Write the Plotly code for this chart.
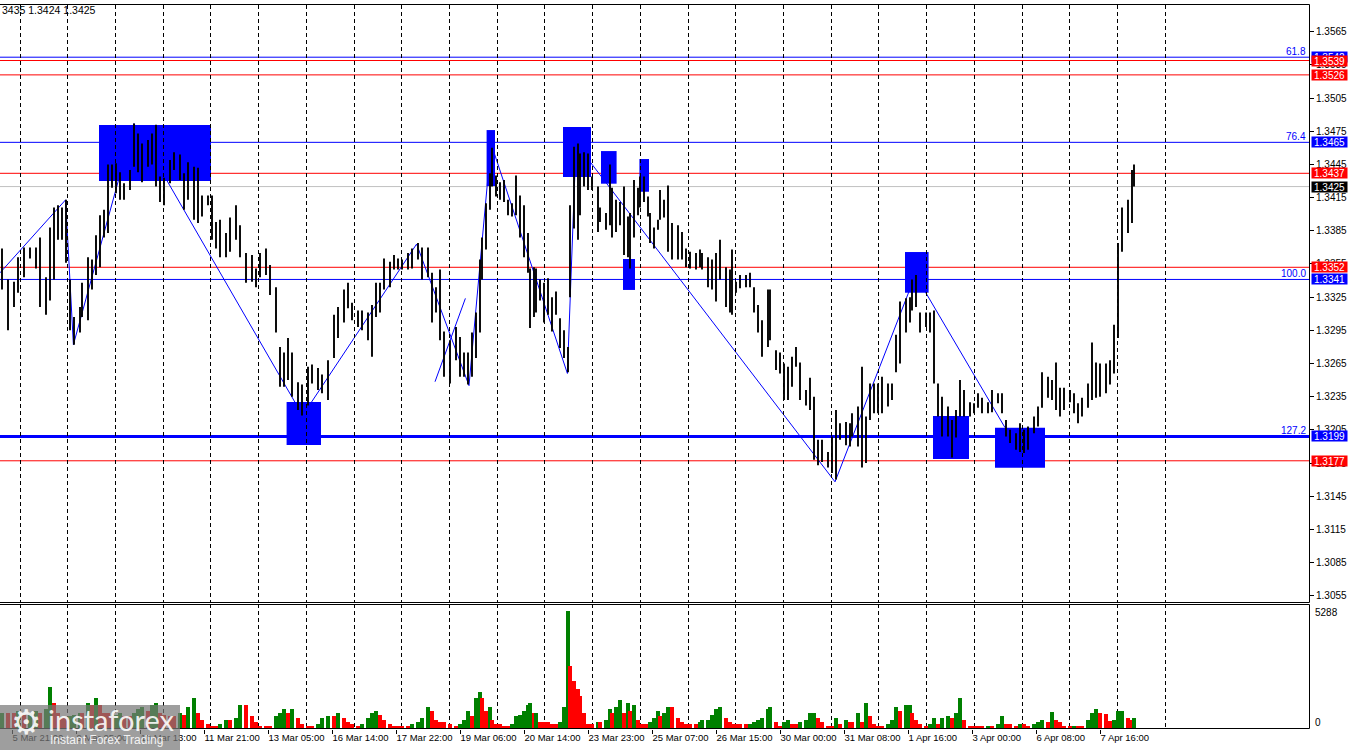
import plotly.graph_objects as go

# ---------------- data ----------------
bar_hour = [1,4,7,9,12,15,18,20,23,25,27,29,31,33,35,37,40,41,44,46,
            48,50,52,54,56,58,60,62,65,67,69,71,74,76,78,80,82,85,87,90,
            92,94,97,99,101,104,106,108,110,113,115,118,120,123,126,128,130,133,135,138,
            140,142,144,146,149,151,154,156,159,161,164,167,169,172,174,176,179,181,184,186,
            188,190,192,195,197,199,201,204,206,209,211,214,216,218,220,222,225,228,230,232,
            234,236,238,240,241,243,245,246,248,250,252,254,256,258,260,262,264,265,267,268,
            270,272,274,276,278,280,282,284,285,287,289,290,292,294,296,299,300,303,305,306,
            308,310,312,314,315,317,319,320,322,324,325,327,329,330,332,334,336,339,341,343,
            345,348,350,351,354,356,358,360,363,365,366,368,370,373,375,377,379,381,384,385,
            388,390,392,394,396,398,400,403,405,407,409,411,414,416,418,420,423,425,426,429,
            431,433,435,437,439,441,444,446,448,450,453,455,456,458,460,463,465,467,469,471,
            474,476,478,480,482,485,487,489,491,494,496,499,501,503,505,508,510,512,514,517,
            519,521,524,526,528,530,532,535,537,539,541,544,546,548,550,553,555,557,559,561,
            564,566,567]

bar_high = [1.3369,1.3341,1.3339,1.3361,1.3370,1.3370,1.3370,1.3379,1.3343,1.3388,
            1.3406,1.3408,1.3406,1.3413,1.3341,1.3307,1.3316,1.3338,1.3361,1.3359,
            1.3381,1.3399,1.3404,1.3445,1.3445,1.3446,1.3438,1.3428,1.3440,1.3482,
            1.3473,1.3464,1.3467,1.3473,1.3481,1.3434,1.3433,1.3449,1.3456,1.3454,
            1.3437,1.3447,1.3443,1.3442,1.3417,1.3417,1.3417,1.3393,1.3395,1.3383,
            1.3397,1.3408,1.3390,1.3365,1.3363,1.3351,1.3365,1.3369,1.3354,1.3334,
            1.3280,1.3275,1.3288,1.3275,1.3248,1.3246,1.3262,1.3264,1.3261,1.3255,
            1.3268,1.3309,1.3316,1.3332,1.3338,1.3320,1.3313,1.3313,1.3311,1.3318,
            1.3338,1.3338,1.3360,1.3357,1.3363,1.3360,1.3359,1.3365,1.3369,1.3374,
            1.3370,1.3370,1.3347,1.3334,1.3350,1.3294,1.3286,1.3298,1.3289,1.3275,
            1.3275,1.3293,1.3311,1.3359,1.3379,1.3410,1.3437,1.3460,1.3435,1.3429,
            1.3431,1.3413,1.3410,1.3435,1.3417,1.3408,1.3383,1.3351,1.3352,1.3351,
            1.3341,1.3338,1.3342,1.3325,1.3330,1.3306,1.3295,1.3280,1.3408,1.3461,
            1.3464,1.3455,1.3456,1.3455,1.3434,1.3425,1.3406,1.3401,1.3445,1.3424,
            1.3413,1.3411,1.3425,1.3398,1.3401,1.3431,1.3424,1.3434,1.3434,1.3416,
            1.3401,1.3388,1.3395,1.3422,1.3413,1.3426,1.3392,1.3390,1.3384,1.3369,
            1.3366,1.3365,1.3368,1.3365,1.3361,1.3359,1.3365,1.3377,1.3352,1.3350,
            1.3368,1.3339,1.3345,1.3345,1.3347,1.3334,1.3318,1.3304,1.3332,1.3332,
            1.3277,1.3275,1.3265,1.3262,1.3271,1.3280,1.3266,1.3241,1.3252,1.3235,
            1.3196,1.3196,1.3185,1.3199,1.3223,1.3211,1.3212,1.3211,1.3220,1.3226,
            1.3262,1.3217,1.3247,1.3247,1.3247,1.3253,1.3247,1.3247,1.3291,1.3321,
            1.3324,1.3325,1.3341,1.3345,1.3311,1.3311,1.3311,1.3313,1.3247,1.3235,
            1.3226,1.3214,1.3223,1.3250,1.3241,1.3230,1.3229,1.3238,1.3234,1.3230,
            1.3241,1.3238,1.3238,1.3214,1.3205,1.3202,1.3211,1.3205,1.3208,1.3217,
            1.3226,1.3257,1.3253,1.3250,1.3266,1.3243,1.3243,1.3241,1.3238,1.3229,
            1.3234,1.3247,1.3284,1.3266,1.3265,1.3265,1.3268,1.3300,1.3374,1.3406,
            1.3413,1.3440,1.3445]

bar_low = [1.3332,1.3295,1.3316,1.3329,1.3343,1.3360,1.3351,1.3316,1.3309,1.3322,
           1.3341,1.3377,1.3377,1.3356,1.3295,1.3282,1.3293,1.3307,1.3304,1.3332,
           1.3345,1.3352,1.3379,1.3383,1.3424,1.3419,1.3413,1.3413,1.3422,1.3443,
           1.3438,1.3429,1.3443,1.3445,1.3425,1.3411,1.3408,1.3428,1.3440,1.3431,
           1.3404,1.3413,1.3395,1.3392,1.3398,1.3408,1.3377,1.3369,1.3361,1.3361,
           1.3366,1.3377,1.3361,1.3338,1.3339,1.3334,1.3343,1.3345,1.3327,1.3293,
           1.3244,1.3244,1.3250,1.3235,1.3223,1.3218,1.3227,1.3247,1.3241,1.3238,
           1.3232,1.3270,1.3288,1.3302,1.3315,1.3304,1.3298,1.3295,1.3286,1.3271,
           1.3307,1.3311,1.3332,1.3334,1.3350,1.3350,1.3350,1.3350,1.3351,1.3359,
           1.3341,1.3343,1.3302,1.3311,1.3286,1.3253,1.3247,1.3268,1.3253,1.3253,
           1.3246,1.3253,1.3270,1.3293,1.3341,1.3368,1.3404,1.3425,1.3416,1.3413,
           1.3411,1.3399,1.3398,1.3399,1.3379,1.3361,1.3347,1.3297,1.3307,1.3311,
           1.3322,1.3302,1.3309,1.3294,1.3309,1.3279,1.3270,1.3257,1.3325,1.3387,
           1.3377,1.3399,1.3425,1.3422,1.3422,1.3384,1.3393,1.3386,1.3390,1.3379,
           1.3384,1.3390,1.3363,1.3361,1.3351,1.3379,1.3399,1.3406,1.3411,1.3398,
           1.3374,1.3369,1.3386,1.3395,1.3397,1.3366,1.3359,1.3359,1.3359,1.3352,
           1.3351,1.3350,1.3352,1.3350,1.3334,1.3332,1.3321,1.3341,1.3316,1.3311,
           1.3309,1.3329,1.3333,1.3334,1.3334,1.3311,1.3293,1.3271,1.3280,1.3286,
           1.3259,1.3256,1.3232,1.3232,1.3244,1.3262,1.3232,1.3227,1.3223,1.3178,
           1.3173,1.3176,1.3171,1.3166,1.3160,1.3196,1.3191,1.3190,1.3199,1.3190,
           1.3171,1.3175,1.3214,1.3220,1.3220,1.3220,1.3226,1.3232,1.3257,1.3265,
           1.3293,1.3302,1.3313,1.3316,1.3293,1.3298,1.3293,1.3247,1.3217,1.3199,
           1.3199,1.3180,1.3198,1.3217,1.3217,1.3217,1.3220,1.3225,1.3220,1.3220,
           1.3221,1.3229,1.3220,1.3199,1.3193,1.3187,1.3185,1.3184,1.3187,1.3202,
           1.3208,1.3225,1.3234,1.3232,1.3223,1.3217,1.3223,1.3230,1.3220,1.3211,
           1.3217,1.3225,1.3232,1.3234,1.3235,1.3238,1.3246,1.3256,1.3288,1.3366,
           1.3383,1.3392,1.3425]

volume = [680,680,640,730,590,680,730,640,820,1820,
          1130,640,450,450,540,590,680,640,1090,1000,
          1360,1000,640,640,540,590,680,540,540,640,
          820,910,770,1000,1090,680,590,540,540,640,
          590,910,1360,680,360,180,90,90,140,320,
          320,450,1000,1000,540,230,90,90,90,540,
          640,860,680,860,450,180,90,90,140,450,
          540,540,680,450,230,140,90,140,450,640,
          730,590,360,180,90,90,90,90,140,230,
          450,950,770,360,270,230,140,90,140,320,
          730,540,1360,1630,1360,770,950,320,140,140,
          90,90,180,540,590,770,1000,1130,640,680,
          270,270,230,180,180,270,910,5288,2770,2130,
          1730,1410,640,180,180,270,230,360,820,640,
          910,1230,640,1130,770,1000,320,180,180,180,
          230,450,730,540,640,910,910,410,230,140,
          140,140,230,320,360,590,860,910,410,270,
          140,140,140,140,180,230,320,450,820,950,
          230,90,270,320,140,140,270,360,640,680,
          410,230,90,90,450,140,320,270,270,680,
          270,1090,540,180,90,90,140,360,910,770,
          1000,1040,680,320,180,50,140,450,180,450,
          500,450,640,1360,320,50,50,50,50,90,
          90,140,500,180,140,90,180,140,90,140,
          230,320,270,700,360,230,90,50,90,90,
          90,360,680,840,640,600,300,320,730,750,
          410,360,450]

volume_max_label = 5288

label_hours = [6, 38, 70, 102, 134, 166, 198, 230, 262, 294, 326, 358, 390, 422, 454, 486, 518, 550]
label_text = ["5 Mar 21:00", "9 Mar 05:00", "10 Mar 13:00", "11 Mar 21:00", "13 Mar 05:00",
              "16 Mar 14:00", "17 Mar 22:00", "19 Mar 06:00", "20 Mar 14:00", "23 Mar 23:00",
              "25 Mar 07:00", "26 Mar 15:00", "30 Mar 00:00", "31 Mar 08:00", "1 Apr 16:00",
              "3 Apr 00:00", "6 Apr 08:00", "7 Apr 16:00"]

price_ticks = [1.3055, 1.3085, 1.3115, 1.3145, 1.3175, 1.3205, 1.3235, 1.3265, 1.3295,
               1.3325, 1.3355, 1.3385, 1.3415, 1.3445, 1.3475, 1.3505, 1.3535, 1.3565]

fib_levels = [(1.3542, "61.8"), (1.3465, "76.4"), (1.3341, "100.0"), (1.3199, "127.2")]
red_levels = [1.3539, 1.3526, 1.3437, 1.3352, 1.3177]
last_price = 1.3425
header_text = "3435 1.3424 1.3425"

# zones: (start hour, end hour, top price, bottom price)
zones = [(49.5, 105.5, 1.34807, 1.3430),
         (143.3, 160.5, 1.32302, 1.31913),
         (243.3, 247.5, 1.34761, 1.34255),
         (281.5, 295.5, 1.34789, 1.34336),
         (300.5, 308.3, 1.34571, 1.34276),
         (319.7, 324.5, 1.34499, 1.34203),
         (311.5, 317.5, 1.33595, 1.33315),
         (452.5, 464.3, 1.33658, 1.3329),
         (466.5, 484.5, 1.32175, 1.31786),
         (497.5, 522.5, 1.32069, 1.31708)]

zig_hours = [0, 32.8, 36.7, 67, 151.3, 208.3, 234.5, 245.5, 283.7, 288, 417.5, 457.7, 502.5]
zig_prices = [1.3347, 1.3413, 1.3282, 1.3482, 1.3218, 1.3373, 1.3245, 1.3464, 1.3256, 1.3464,
              1.3158, 1.3345, 1.3207]
short_hours = [217.5, 232.7]
short_prices = [1.32485, 1.33239]

# ---------------- layout geometry ----------------
W, H = 1350, 750
PL, PR, PT, PB = 0, 1309, 5, 729          # plot area in pixels
PW, PH = PR - PL, PB - PT
PRICE_BOTTOM_PX, VOL_TOP_PX = 602, 604


def px_x(px):
    return (px - PL) / PW


def px_y(py):
    return (PB - py) / PH


BLUE, RED, GREEN = "#0000FF", "#FF0000", "#008000"
FONT = "Liberation Sans"

# ---------------- traces ----------------
bx, by = [], []
for h, hi, lo in zip(bar_hour, bar_high, bar_low):
    bx += [h, h, None]
    by += [hi, lo, None]

vol_colors = [GREEN if (i == 0 or v > volume[i - 1]) else RED for i, v in enumerate(volume)]

fig = go.Figure()
fig.add_trace(go.Scatter(x=bx, y=by, mode="lines", line=dict(color="black", width=1.9),
                         hoverinfo="skip", showlegend=False, yaxis="y", xaxis="x"))
fig.add_trace(go.Bar(x=bar_hour, y=volume, marker=dict(color=vol_colors, line=dict(width=0)),
                     width=1.7, yaxis="y2", xaxis="x", showlegend=False, hoverinfo="skip"))

shapes = []


def path_of(hs, ps):
    return "M " + " L ".join(f"{h},{p}" for h, p in zip(hs, ps))


shapes.append(dict(type="path", path=path_of(zig_hours, zig_prices), xref="x", yref="y",
                   line=dict(color=BLUE, width=1), layer="below"))
shapes.append(dict(type="path", path=path_of(short_hours, short_prices), xref="x", yref="y",
                   line=dict(color=BLUE, width=1), layer="below"))
for x0, x1, y1, y0 in zones:
    shapes.append(dict(type="rect", xref="x", yref="y", x0=x0, x1=x1, y0=y0, y1=y1,
                       fillcolor=BLUE, line=dict(width=0), layer="below"))

for p, lab in fib_levels:
    shapes.append(dict(type="line", xref="paper", yref="y", x0=0, x1=1, y0=p, y1=p,
                       line=dict(color=BLUE, width=3 if lab == "127.2" else 1), layer="between"))
for p in red_levels:
    shapes.append(dict(type="line", xref="paper", yref="y", x0=0, x1=1, y0=p, y1=p,
                       line=dict(color=RED, width=1), layer="between"))
shapes.append(dict(type="line", xref="paper", yref="y", x0=0, x1=1, y0=last_price, y1=last_price,
                   line=dict(color="#C0C0C0", width=1), layer="between"))


def hline(py):
    return dict(type="line", xref="paper", yref="paper", x0=0, x1=px_x(PR + 0.5),
                y0=px_y(py), y1=px_y(py), line=dict(color="black", width=1), layer="above")


def vline(px, py0, py1):
    return dict(type="line", xref="paper", yref="paper", x0=px_x(px), x1=px_x(px),
                y0=px_y(py0), y1=px_y(py1), line=dict(color="black", width=1), layer="above")

shapes += [hline(4.5), hline(PRICE_BOTTOM_PX + 0.5), hline(VOL_TOP_PX + 0.5), hline(PB - 0.5),
           vline(PR + 0.5, 4.5, PRICE_BOTTOM_PX + 0.5), vline(PR + 0.5, VOL_TOP_PX + 0.5, PB - 0.5)]

shapes.append(dict(type="rect", xref="paper", yref="paper", x0=px_x(0), x1=px_x(180),
                   y0=px_y(750), y1=px_y(705), fillcolor="rgba(120,120,120,0.72)",
                   line=dict(width=0), layer="above"))

annotations = []


def axis_box(price, text, bg):
    annotations.append(dict(xref="paper", yref="y", x=px_x(1311), y=price, xanchor="left",
                            yanchor="middle", text=text, showarrow=False, bgcolor=bg,
                            font=dict(color="white", size=10, family=FONT),
                            width=35, height=10, borderpad=0, align="center"))

for p, lab in fib_levels:
    annotations.append(dict(xref="paper", yref="y", x=px_x(1308), y=p, xanchor="right",
                            yanchor="bottom", text=lab, showarrow=False, yshift=-2,
                            font=dict(color=BLUE, size=10, family=FONT)))

axis_box(fib_levels[0][0], f"{fib_levels[0][0]:.4f}", BLUE)
for p in red_levels:
    axis_box(p, f"{p:.4f}", RED)
for p, lab in fib_levels[1:]:
    axis_box(p, f"{p:.4f}", BLUE)
axis_box(last_price, f"{last_price:.4f}", "black")

annotations.append(dict(xref="paper", yref="paper", x=px_x(0), y=px_y(10), xanchor="left",
                        yanchor="middle", text=header_text, showarrow=False,
                        font=dict(color="black", size=10.5, family=FONT)))
annotations.append(dict(xref="paper", yref="paper", x=px_x(1313), y=px_y(612), xanchor="left",
                        yanchor="middle", text=str(volume_max_label), showarrow=False,
                        font=dict(color="black", size=10, family=FONT)))
annotations.append(dict(xref="paper", yref="paper", x=px_x(1313), y=px_y(722), xanchor="left",
                        yanchor="middle", text="0", showarrow=False,
                        font=dict(color="black", size=10, family=FONT)))

annotations.append(dict(xref="paper", yref="paper", x=px_x(26), y=px_y(722), xanchor="center",
                        yanchor="middle", text="\u2699", showarrow=False,
                        font=dict(color="rgba(255,255,255,0.9)", size=34, family="DejaVu Sans")))
annotations.append(dict(xref="paper", yref="paper", x=px_x(46), y=px_y(719), xanchor="left",
                        yanchor="middle", text="instaforex", showarrow=False,
                        font=dict(color="rgba(255,255,255,0.9)", size=29, family="Lato")))
annotations.append(dict(xref="paper", yref="paper", x=px_x(48), y=px_y(740), xanchor="left",
                        yanchor="middle", text="Instant Forex Trading", showarrow=False,
                        font=dict(color="rgba(255,255,255,0.9)", size=12, family=FONT)))

grid_hours = [10 + 23.86 * i for i in range(25)]

fig.update_layout(
    width=W, height=H,
    margin=dict(l=PL, r=W - PR, t=PT, b=H - PB, pad=0, autoexpand=False),
    paper_bgcolor="white", plot_bgcolor="white",
    showlegend=False,
    shapes=shapes, annotations=annotations,
    xaxis=dict(range=[0, PW / 2], anchor="y2", showgrid=False, zeroline=False, showline=False,
               tickmode="array", tickvals=label_hours, ticktext=label_text,
               ticks="outside", ticklen=4, tickcolor="black", tickangle=0,
               ticklabelposition="outside right", automargin=False,
               tickfont=dict(size=9.5, family=FONT, color="black"),
               minor=dict(tickmode="array", tickvals=grid_hours, showgrid=True,
                          gridcolor="black", griddash="4px,3px", gridwidth=1, ticks="")),
    yaxis=dict(domain=[px_y(PRICE_BOTTOM_PX), 1], range=[1.30493, 1.35892], side="right",
               tickmode="array", tickvals=price_ticks, tickformat=".4f", automargin=False,
               ticks="outside", ticklen=4, tickcolor="black", showgrid=False, zeroline=False,
               showline=False, tickfont=dict(size=10, family=FONT, color="black")),
    yaxis2=dict(domain=[0, px_y(VOL_TOP_PX)], range=[-68, 5606], side="right",
                showticklabels=False, ticks="", showgrid=False, zeroline=False, showline=False),
    bargap=0,
)

fig.write_html("out.html", config={"displayModeBar": False},
               post_script="document.body.style.margin='0';document.body.style.overflow='hidden';")
